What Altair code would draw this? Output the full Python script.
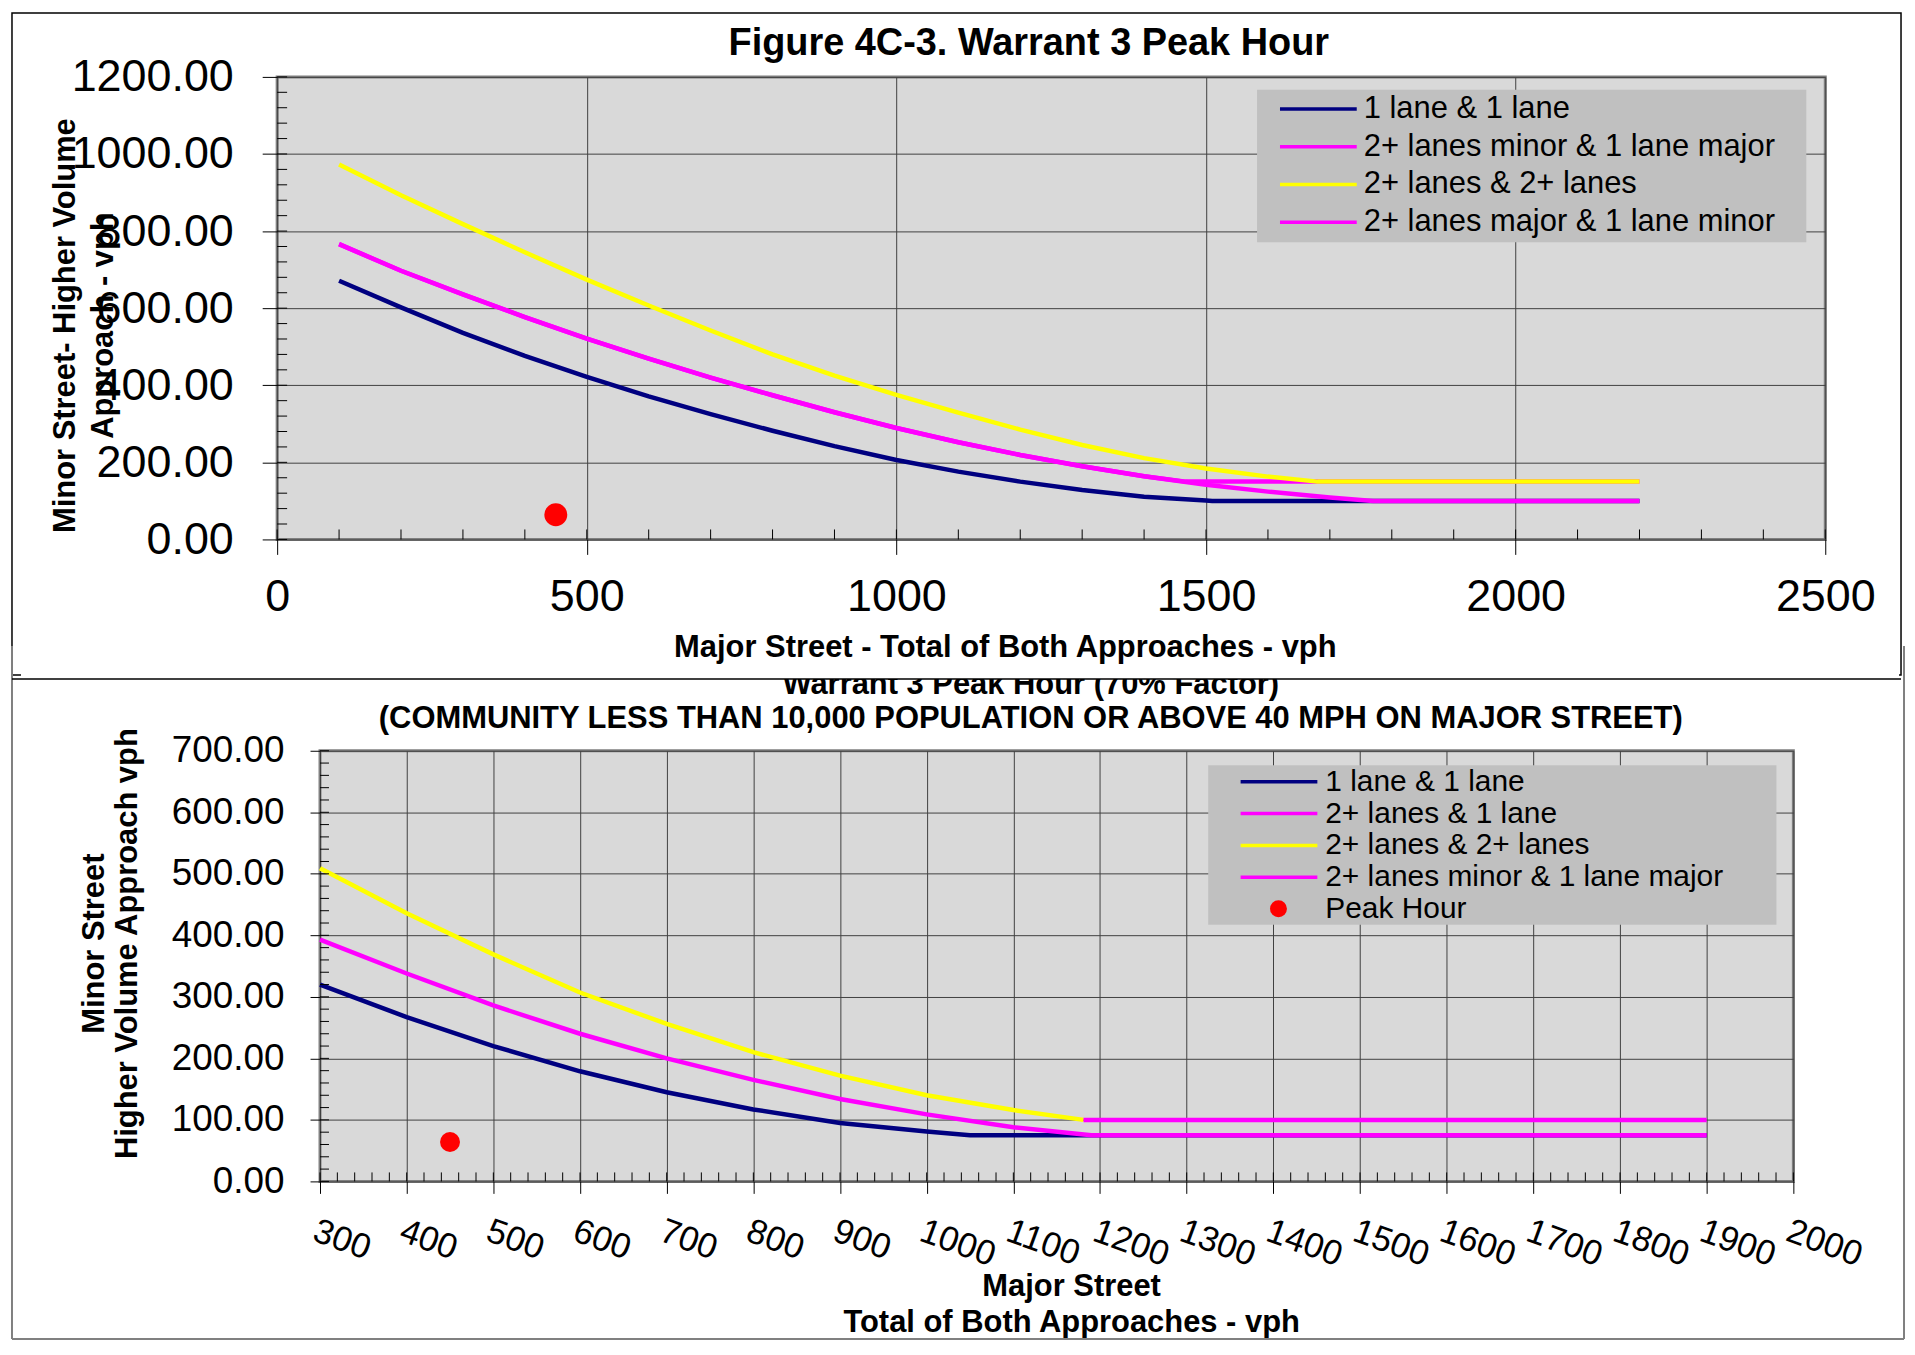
import altair as alt
import pandas as pd

FONT = "Liberation Sans"

# ---------------- top chart ----------------
TOP_TITLE = "Figure 4C-3. Warrant 3 Peak Hour"
TOP_XTITLE = "Major Street - Total of Both Approaches - vph"
TOP_YTITLE = ["Minor Street- Higher Volume", "Approach - vph"]
TOP_SERIES = ["1 lane & 1 lane", "2+ lanes minor & 1 lane major",
              "2+ lanes & 2+ lanes", "2+ lanes major & 1 lane minor"]
TOP_COLORS = ["#000080", "#FF00FF", "#FFFF00", "#FF00FF"]
TOP_XTICKS = [0, 500, 1000, 1500, 2000, 2500]
TOP_YTICKS = [0, 200, 400, 600, 800, 1000, 1200]
TOP_XMINOR = list(range(0, 2501, 100))
TOP_YMINOR = list(range(0, 1201, 40))

top_s1_x = [100, 200, 300, 400, 500, 600, 700, 800, 900, 1000, 1100, 1200, 1300, 1400, 1500, 1510, 2200]
top_s1_y = [671, 602, 536, 476, 422, 371, 325, 282, 242, 206, 176, 150, 128, 111, 101, 100, 100]
top_s2_x = [100, 200, 300, 400, 500, 600, 700, 800, 900, 1000, 1100, 1200, 1300, 1400, 1467, 2200]
top_s2_y = [766, 697, 636, 577, 521, 469, 420, 374, 330, 289, 252, 219, 190, 164, 150, 150]
top_s3_x = [100, 200, 300, 400, 500, 600, 700, 800, 900, 1000, 1100, 1200, 1300, 1400, 1500, 1600, 1680, 2200]
top_s3_y = [973, 893, 818, 745, 674, 607, 542, 480, 425, 375, 329, 285, 245, 211, 184, 163, 150, 150]
top_s4_x = [100, 200, 300, 400, 500, 600, 700, 800, 900, 1000, 1100, 1200, 1300, 1400, 1500, 1600, 1700, 1770, 2200]
top_s4_y = [766, 697, 636, 577, 521, 469, 420, 374, 330, 289, 252, 219, 190, 164, 142, 124, 109, 100, 100]

# ---------------- bottom chart ----------------
BOT_TITLE = ["Warrant 3 Peak Hour (70% Factor)",
             "(COMMUNITY LESS THAN 10,000 POPULATION OR ABOVE 40 MPH ON MAJOR STREET)"]
BOT_XTITLE = ["Major Street", "Total of Both Approaches - vph"]
BOT_YTITLE = ["Minor Street", "Higher Volume Approach vph"]
BOT_SERIES = ["1 lane & 1 lane", "2+ lanes & 1 lane",
              "2+ lanes & 2+ lanes", "2+ lanes minor & 1 lane major"]
BOT_COLORS = ["#000080", "#FF00FF", "#FFFF00", "#FF00FF"]
BOT_XTICKS = list(range(300, 2001, 100))
BOT_YTICKS = list(range(0, 701, 100))
BOT_XMINOR = list(range(300, 2001, 20))
BOT_YMINOR = list(range(0, 701, 20))

bot_s1_x = [300, 400, 500, 600, 700, 800, 900, 1000, 1050, 1900]
bot_s1_y = [320, 267, 220, 179, 145, 117, 95, 81, 75, 75]
bot_s2_x = [300, 400, 500, 600, 700, 800, 900, 1000, 1100, 1190, 1900]
bot_s2_y = [393, 338, 286, 240, 200, 165, 134, 109, 88, 75, 75]
bot_s3_x = [300, 400, 500, 600, 700, 800, 900, 1000, 1100, 1181]
bot_s3_y = [509, 436, 369, 307, 256, 210, 172, 140, 116, 100]
bot_s4_x = [1181, 1900]
bot_s4_y = [100, 100]

PEAK_LABEL = "Peak Hour"
peak_x = [450]
peak_y = [64]

TOP_W, TOP_H = 1553, 464
BOT_W, BOT_H = 1478, 432
BOT_SHIFT = 43          # bottom plot starts this far right of the top plot
GAP = 212               # vertical distance between the two plot areas


def sdf(name, xs, ys):
    return pd.DataFrame({"x": xs, "y": ys, "series": [name] * len(xs)})


def one():
    return pd.DataFrame({"k": [0]})


AX = dict(grid=True, gridColor="#404040", gridWidth=1, domain=False, ticks=True,
          tickColor="black", tickWidth=1, labelColor="black", labelFlush=False,
          labelOverlap=False, titleColor="black", titleFontWeight="bold",
          titleAlign="center", titleBaseline="middle")

# ---- top encodings ----
top_xscale = alt.Scale(domain=[0, 2500], nice=False, zero=False)
top_yscale = alt.Scale(domain=[0, 1200], nice=False, zero=False)
X_top = alt.X("x:Q", scale=top_xscale, axis=alt.Axis(
    values=TOP_XTICKS, format="d", title=TOP_XTITLE, labelFontSize=45, tickSize=15,
    labelPadding=20, titleFontSize=31, titleX=730, titleY=108, **AX))
Y_top = alt.Y("y:Q", scale=top_yscale, axis=alt.Axis(
    values=TOP_YTICKS, format=".2f", title=TOP_YTITLE, labelFontSize=45, tickSize=15,
    labelPadding=29, titleFontSize=31, titleAngle=270, titleX=-212, titleY=249,
    titleLineHeight=38, **AX))
C_top = alt.Color("series:N", scale=alt.Scale(domain=TOP_SERIES, range=TOP_COLORS),
                  legend=alt.Legend(title=None, orient="none", legendX=1004, legendY=15.3,
                                    symbolType="stroke", symbolSize=5929, symbolStrokeWidth=3.5,
                                    labelFontSize=31, labelFont=FONT, labelColor="black",
                                    labelLimit=0, labelOffset=5, clipHeight=34, rowPadding=3.8,
                                    padding=0))

top_frame = alt.Chart(one()).mark_rect(fill="white", fillOpacity=0, stroke="black", strokeWidth=1.5).encode(
    x=alt.value(-266), x2=alt.value(1629), y=alt.value(-64), y2=alt.value(600))
top_legbox = alt.Chart(one()).mark_rect(color="#C0C0C0").encode(
    x=alt.value(983), x2=alt.value(1534), y=alt.value(13), y2=alt.value(166))
top_xminor = alt.Chart(pd.DataFrame({"x": TOP_XMINOR})).mark_rule(color="black", strokeWidth=1).encode(
    x=X_top, y=alt.value(TOP_H - 10), y2=alt.value(TOP_H))
top_yminor = alt.Chart(pd.DataFrame({"y": TOP_YMINOR})).mark_rule(color="black", strokeWidth=1).encode(
    y=Y_top, x=alt.value(0), x2=alt.value(10))
top_lines = [alt.Chart(sdf(n, xs, ys)).mark_line(strokeWidth=4.5).encode(x=X_top, y=Y_top, color=C_top)
             for n, xs, ys in zip(TOP_SERIES, [top_s1_x, top_s2_x, top_s3_x, top_s4_x],
                                  [top_s1_y, top_s2_y, top_s3_y, top_s4_y])]
top_peak = alt.Chart(pd.DataFrame({"x": peak_x, "y": peak_y})).mark_circle(
    color="#FF0000", size=529, opacity=1).encode(x=X_top, y=Y_top)
top_title = alt.Chart(pd.DataFrame({"t": [TOP_TITLE]})).mark_text(
    font=FONT, fontSize=38, fontWeight="bold", align="center", baseline="middle", color="black").encode(
    text="t:N", x=alt.value(754), y=alt.value(-33))

top = alt.layer(top_frame, top_legbox, *top_lines, top_xminor, top_yminor, top_peak, top_title).properties(
    width=TOP_W, height=TOP_H)

# ---- bottom encodings ----
bot_xscale = alt.Scale(domain=[300, 2000], nice=False, zero=False)
bot_yscale = alt.Scale(domain=[0, 700], nice=False, zero=False)
X_bot = alt.X("x:Q", scale=bot_xscale, axis=alt.Axis(
    values=BOT_XTICKS, format="d", title=BOT_XTITLE, labelFontSize=35, labelAngle=20,
    labelAlign="left", labelBaseline="top", tickSize=12, labelPadding=20,
    titleFontSize=31, titleX=753.5, titleY=105.5, titleLineHeight=36.5, **AX))
Y_bot = alt.Y("y:Q", scale=bot_yscale, axis=alt.Axis(
    values=BOT_YTICKS, format=".2f", title=BOT_YTITLE, labelFontSize=37, tickSize=10,
    labelPadding=26, titleFontSize=31, titleAngle=270, titleX=-226, titleY=193,
    titleLineHeight=33, **AX))
C_bot = alt.Color("series:N", scale=alt.Scale(domain=BOT_SERIES, range=BOT_COLORS),
                  legend=alt.Legend(title=None, orient="none", legendX=921.5, legendY=15.1,
                                    symbolType="stroke", symbolSize=5929, symbolStrokeWidth=3.5,
                                    labelFontSize=30, labelFont=FONT, labelColor="black",
                                    labelLimit=0, labelOffset=5.9, clipHeight=31.8, rowPadding=0,
                                    padding=0))
S_bot = alt.Shape("lab:N", scale=alt.Scale(domain=[PEAK_LABEL], range=["circle"]),
                  legend=alt.Legend(title=None, orient="none", legendX=946.5, legendY=142.6,
                                    symbolSize=289, symbolFillColor="#FF0000", symbolStrokeWidth=0,
                                    labelFontSize=30, labelFont=FONT, labelColor="black",
                                    labelLimit=0, labelOffset=31.9, clipHeight=31.8, padding=0))

bot_frame_l = alt.Chart(one()).mark_rule(color="#808080", strokeWidth=2).encode(
    x=alt.value(-309), y=alt.value(-105), y2=alt.value(590))
bot_frame_r = alt.Chart(one()).mark_rule(color="#808080", strokeWidth=2).encode(
    x=alt.value(1589), y=alt.value(-105), y2=alt.value(590))
bot_frame_b = alt.Chart(one()).mark_rule(color="#808080", strokeWidth=2).encode(
    x=alt.value(-309), x2=alt.value(1589), y=alt.value(590))
bot_legbox = alt.Chart(one()).mark_rect(color="#C0C0C0").encode(
    x=alt.value(891), x2=alt.value(1461), y=alt.value(14.5), y2=alt.value(174.5))
bot_xminor = alt.Chart(pd.DataFrame({"x": BOT_XMINOR})).mark_rule(color="black", strokeWidth=1).encode(
    x=X_bot, y=alt.value(BOT_H - 9), y2=alt.value(BOT_H))
bot_yminor = alt.Chart(pd.DataFrame({"y": BOT_YMINOR})).mark_rule(color="black", strokeWidth=1).encode(
    y=Y_bot, x=alt.value(0), x2=alt.value(9))
bot_lines = [alt.Chart(sdf(n, xs, ys)).mark_line(strokeWidth=4.5).encode(x=X_bot, y=Y_bot, color=C_bot)
             for n, xs, ys in zip(BOT_SERIES, [bot_s1_x, bot_s2_x, bot_s3_x, bot_s4_x],
                                  [bot_s1_y, bot_s2_y, bot_s3_y, bot_s4_y])]
bot_peak = alt.Chart(pd.DataFrame({"x": peak_x, "y": peak_y, "lab": [PEAK_LABEL]})).mark_point(
    filled=True, color="#FF0000", size=400, opacity=1).encode(x=X_bot, y=Y_bot, shape=S_bot)
bot_title = alt.Chart(pd.DataFrame({"k": [0]})).mark_text(
    font=FONT, fontSize=31, fontWeight="bold", align="center", baseline="middle", color="black",
    lineHeight=34).encode(text=alt.value(BOT_TITLE), x=alt.value(713), y=alt.value(-66))
# the upper chart's box overlaps the top of the lower chart's first title line
bot_cover = alt.Chart(one()).mark_rect(color="white").encode(
    x=alt.value(-300), x2=alt.value(1584), y=alt.value(-84), y2=alt.value(-72))
bot_topedge = alt.Chart(one()).mark_rule(color="black", strokeWidth=1.5).encode(
    x=alt.value(-309), x2=alt.value(1586), y=alt.value(-72))

bot = alt.layer(bot_frame_l, bot_frame_r, bot_frame_b, bot_legbox, *bot_lines, bot_xminor, bot_yminor,
                bot_peak, bot_title, bot_cover, bot_topedge).properties(width=BOT_W, height=BOT_H)

spacer = alt.Chart(one()).mark_point(opacity=0).properties(
    width=BOT_SHIFT, height=BOT_H,
    view=alt.ViewBackground(fill="transparent", stroke="transparent", strokeWidth=0))

bot_row = alt.hconcat(spacer, bot, spacing=0, bounds="flush").resolve_scale(
    x="independent", y="independent", color="independent", shape="independent")

chart = alt.vconcat(top, bot_row, spacing=GAP, bounds="flush").resolve_scale(
    x="independent", y="independent", color="independent", shape="independent"
).properties(
    padding={"left": 1, "top": 0, "right": 0, "bottom": 0}, background="white"
).configure_view(
    stroke="#808080", strokeWidth=3, fill="#D9D9D9"
).configure_axis(
    labelFont=FONT, titleFont=FONT
).configure_legend(
    labelFont=FONT
)

chart.save("out.html", embed_options={"renderer": "svg", "actions": False})
